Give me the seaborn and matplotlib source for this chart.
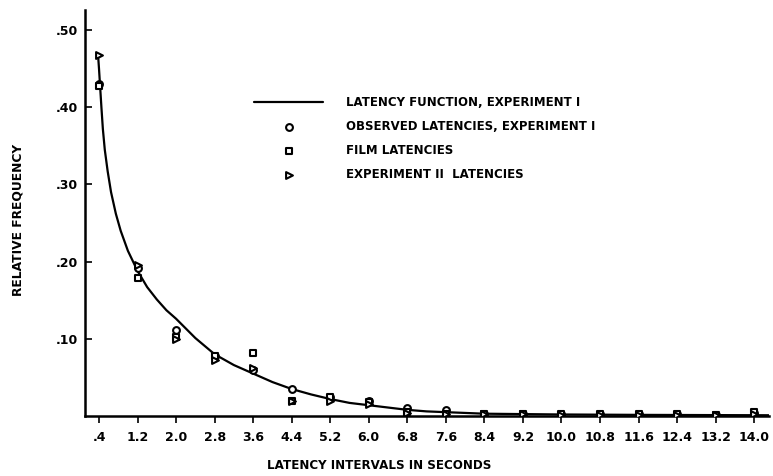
import numpy as np
import pandas as pd
import matplotlib
matplotlib.use("Agg")
import matplotlib.pyplot as plt
import seaborn as sns

# latency intervals (seconds)
intervals = [0.4, 1.2, 2.0, 2.8, 3.6, 4.4, 5.2, 6.0, 6.8, 7.6, 8.4, 9.2,
             10.0, 10.8, 11.6, 12.4, 13.2, 14.0]
tick_labels = [".4", "1.2", "2.0", "2.8", "3.6", "4.4", "5.2", "6.0", "6.8", "7.6",
               "8.4", "9.2", "10.0", "10.8", "11.6", "12.4", "13.2", "14.0"]

observed = [0.430, 0.192, 0.112, 0.078, 0.060, 0.035, 0.024, 0.019, 0.011, 0.008,
            0.003, 0.003, 0.002, 0.002, 0.003, 0.003, 0.001, 0.004]
film = [0.428, 0.179, 0.102, 0.078, 0.082, 0.019, 0.024, 0.018, 0.005, 0.003,
        0.002, 0.003, 0.002, 0.002, 0.002, 0.003, 0.001, 0.005]
exp2 = [0.468, 0.196, 0.100, 0.073, 0.062, 0.019, 0.019, 0.016, 0.004, 0.002,
        0.002, 0.002, 0.001, 0.001, 0.001, 0.001, 0.001, 0.003]

# latency function
curve_t = [0.38, 0.40, 0.42, 0.45, 0.48, 0.52, 0.58, 0.65, 0.75, 0.85, 1.0, 1.2,
           1.4, 1.6, 1.8, 2.0, 2.4, 2.8, 3.2, 3.6, 4.0, 4.4, 4.8, 5.2, 5.6, 6.0,
           6.4, 6.8, 7.2, 7.6, 8.4, 9.2, 10.0, 11.6, 13.2, 14.3]
curve_f = [0.468, 0.450, 0.430, 0.400, 0.372, 0.345, 0.317, 0.290, 0.262, 0.240,
           0.214, 0.188, 0.167, 0.151, 0.137, 0.126, 0.101, 0.080, 0.066, 0.055,
           0.044, 0.035, 0.028, 0.022, 0.017, 0.014, 0.011, 0.008, 0.006, 0.005,
           0.003, 0.0025, 0.002, 0.0015, 0.0012, 0.001]

sns.set_style("ticks")
plt.rcParams["font.family"] = ["DejaVu Sans"]
plt.rcParams["font.weight"] = "bold"
for k in ["text.color", "axes.labelcolor", "xtick.color", "ytick.color", "axes.edgecolor"]:
    plt.rcParams[k] = "black"

fig = plt.figure(figsize=(7.73, 4.76), dpi=100)
ax = fig.add_axes([0.110, 0.126, 0.885, 0.853])

curve = pd.DataFrame({"t": curve_t, "f": curve_f})
sns.lineplot(data=curve, x="t", y="f", color="black", linewidth=1.6, ax=ax,
             label="LATENCY FUNCTION, EXPERIMENT I")

pts = pd.DataFrame({"t": intervals, "obs": observed, "film": film, "exp2": exp2})
kw = dict(s=24, facecolor="white", edgecolor="black", linewidth=1.5, ax=ax, zorder=3)
sns.scatterplot(data=pts, x="t", y="obs", marker="o", label="OBSERVED LATENCIES, EXPERIMENT I", **kw)
sns.scatterplot(data=pts, x="t", y="film", marker="s", label="FILM LATENCIES", **kw)
sns.scatterplot(data=pts, x="t", y="exp2", marker=">", label="EXPERIMENT II  LATENCIES", **kw)

ax.set_xlim(0.11, 14.31)
ax.set_ylim(0, 0.526)
ax.set_xticks(intervals)
ax.set_xticklabels(tick_labels, fontsize=9, fontweight="bold")
ax.set_yticks([0.1, 0.2, 0.3, 0.4, 0.5])
ax.set_yticklabels([".10", ".20", ".30", ".40", ".50"], fontsize=9, fontweight="bold")
ax.tick_params(axis="x", direction="out", length=5, width=1.2, pad=6)
ax.tick_params(axis="y", direction="in", length=5, width=1.2, pad=5)

sns.despine(ax=ax)
for s in ["left", "bottom"]:
    ax.spines[s].set_linewidth(1.8)

ax.set_xlabel("LATENCY INTERVALS IN SECONDS", fontsize=8.6, fontweight="bold")
ax.set_ylabel("RELATIVE FREQUENCY", fontsize=8.8, fontweight="bold")
ax.xaxis.set_label_coords(0.43, -0.106)
ax.yaxis.set_label_coords(-0.088, 0.483)

leg = ax.legend(loc="upper left", bbox_to_anchor=(0.232, 0.815), frameon=False,
                handlelength=5.8, handletextpad=2.0, labelspacing=0.95,
                prop={"size": 8.5, "weight": "bold"})

fig.savefig("out.png", dpi=100)
